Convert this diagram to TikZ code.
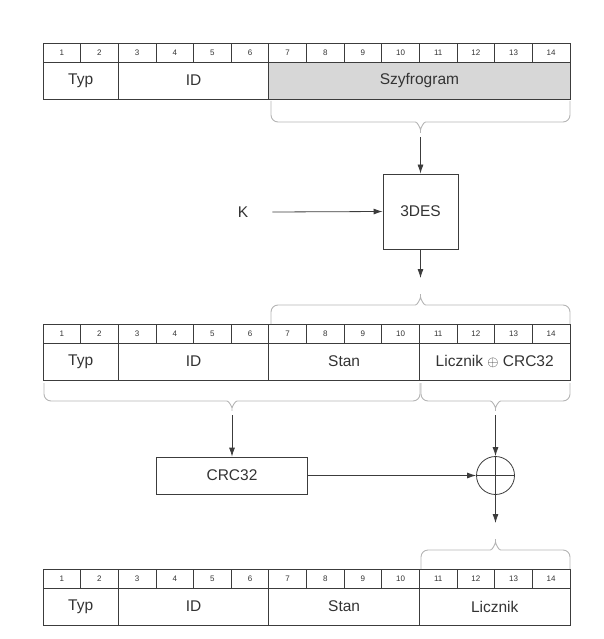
\documentclass[tikz,border=0pt]{standalone}
\usepackage{fontspec}
\setmainfont{Liberation Sans}
\usetikzlibrary{arrows.meta}
\definecolor{ln}{HTML}{3C3C3C}
\definecolor{br}{HTML}{B4B4B4}
\definecolor{fillg}{HTML}{D7D7D7}
\definecolor{tx}{HTML}{333333}
\newcommand{\mybrace}[6]{%
  \pgfmathsetmacro\xm{(#1+#2)/2}%
  \pgfmathsetmacro\xa{\xm-12}%
  \pgfmathsetmacro\xb{\xm+12}%
  \pgfmathsetmacro\xc{\xm-3}%
  \pgfmathsetmacro\xd{\xm+3}%
  \pgfmathsetmacro\ym{#4+(#5-#4)*0.45}%
  \draw[brc] (#1,#3) -- (#1,#4) -- (\xa,#4) .. controls (\xc,#4) and (\xm,\ym) .. (\xm,#5)
     .. controls (\xm,\ym) and (\xd,#4) .. (\xb,#4) -- (#2,#4) -- (#2,#3);
  \coordinate (#6) at (\xm,#5);}
\begin{document}
\begin{tikzpicture}[x=1pt,y=-1pt,
 cell/.style={draw=ln, line width=0.8pt, inner sep=0pt, minimum height=19pt, minimum width=37.643pt, font=\fontsize{8}{9}\selectfont, text=tx},
 field/.style={draw=ln, line width=0.8pt, inner sep=0pt, minimum height=37pt, font=\fontsize{15.5}{17}\selectfont, text=tx},
 arr/.style={draw=ln, line width=0.8pt, -{Latex[length=9pt,width=6pt]}},
 brc/.style={draw=br, line width=0.9pt, rounded corners=7pt},
 box/.style={draw=ln, line width=0.8pt, inner sep=0pt, font=\fontsize{15.5}{17}\selectfont, text=tx},
 lbl/.style={inner sep=0pt, font=\fontsize{15.5}{17}\selectfont, text=tx}]
\useasboundingbox (0,0) rectangle (603,639);
% tables: number rows
\foreach \r/\yt in {a/43, b/324, c/569}{
  \foreach \i in {1,...,14}{
    \node[cell] (\r\i) at ({43+(\i-0.5)*37.643}, \yt+9.5) {\i};
  }
}
% table 1
\node[field, minimum width=75.286pt] (atyp) at (80.643, 80.5) {Typ};
\node[field, minimum width=150.572pt] (aid) at (193.572, 80.5) {ID};
\node[field, fill=fillg, minimum width=301.144pt] (aszy) at (419.43, 80.5) {Szyfrogram};
% table 2
\node[field, minimum width=75.286pt] (btyp) at (80.643, 361.5) {Typ};
\node[field, minimum width=150.572pt] (bid) at (193.572, 361.5) {ID};
\node[field, minimum width=150.572pt] (bstan) at (344.144, 361.5) {Stan};
\node[field, minimum width=150.572pt] (blic) at (494.716, 361.5) {Licznik $\oplus$ CRC32};
% table 3
\node[field, minimum width=75.286pt] (ctyp) at (80.643, 606.5) {Typ};
\node[field, minimum width=150.572pt] (cid) at (193.572, 606.5) {ID};
\node[field, minimum width=150.572pt] (cstan) at (344.144, 606.5) {Stan};
\node[field, minimum width=150.572pt] (clic) at (494.716, 606.5) {Licznik};
% braces
\mybrace{271}{570}{101}{122}{137}{t1}
\mybrace{271}{570}{324}{305}{290}{t2}
\mybrace{44}{420}{383}{401}{415}{t3}
\mybrace{421}{570}{383}{401}{415}{t4}
\mybrace{421}{570}{569}{550}{535}{t5}
% 3DES
\node[box, minimum width=75pt, minimum height=75pt] (des) at (420.5, 211.5) {3DES};
\node[lbl] (K) at (243, 212) {K};
\coordinate (e1) at (420.5, 278);
\draw[arr] (t1) -- (t1 |- des.north);
\draw[arr] ([xshift=24pt]K.east) -- (des.west);
\draw[arr] (des.south) -- (e1);
% CRC32 and xor
\node[box, minimum width=151pt, minimum height=37pt] (crc) at (232, 475.5) {CRC32};
\node[draw=ln, line width=0.8pt, circle, minimum size=38pt, inner sep=0pt] (xo) at (495.5, 475.5) {};
\draw[draw=ln, line width=0.8pt] (xo.north) -- (xo.south) (xo.west) -- (xo.east);
\coordinate (e2) at (495.5, 523);
\draw[arr] (t3) -- (t3 |- crc.north);
\draw[arr] (crc.east) -- (xo.west);
\draw[arr] (t4) -- (xo.north);
\draw[arr] (xo.south) -- (e2);
\end{tikzpicture}
\end{document}
